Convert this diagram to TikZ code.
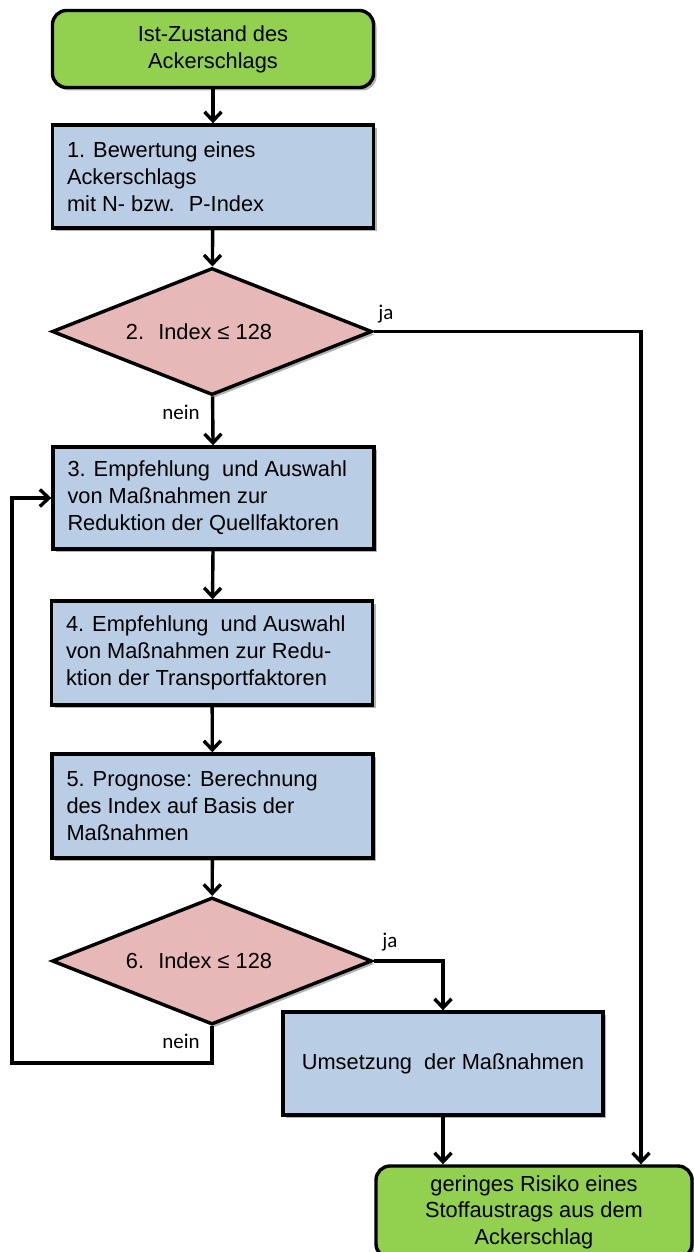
\documentclass[tikz,border=0pt]{standalone}
\usepackage{fontspec}
\setmainfont{Liberation Sans}
\newfontfamily\lblfont{Carlito}
\usetikzlibrary{shapes.geometric,arrows.meta,shadows}
\definecolor{boxgreen}{HTML}{92D050}
\definecolor{boxblue}{HTML}{B9CDE5}
\definecolor{boxpink}{HTML}{E6B9B8}
\tikzset{
  base/.style={draw=black, line width=3.4pt, font=\fontsize{21.8}{27}\selectfont,
    drop shadow={shadow xshift=3pt, shadow yshift=-3pt, opacity=0.3, fill=black}},
  termbox/.style={base, fill=boxgreen, rounded corners=14pt, align=center,
    minimum width=321pt, inner sep=0pt},
  stepbox/.style={base, fill=boxblue, text width=292pt, align=flush left,
    inner xsep=14.5pt, inner ysep=0pt},
  decbox/.style={base, fill=boxpink, diamond, minimum width=320pt,
    minimum height=127pt, inner sep=0pt, aspect=2.5},
  conn/.style={draw=black, line width=3.4pt, line join=miter,
    -{Straight Barb[length=9pt,width=17pt,line width=3.4pt]}},
  lbl/.style={font=\lblfont\fontsize{21}{24}\selectfont, inner sep=0pt}
}
\begin{document}
\begin{tikzpicture}[x=1pt,y=-1pt]
\useasboundingbox (0,0) rectangle (693,1252);
\node[termbox, minimum height=77pt] (start) at (213,49) {Ist-Zustand des\\Ackerschlags};
\node[stepbox, minimum height=103pt] (b1) at (213,176.5) {1. Bewertung eines\\Ackerschlags\\mit N- bzw.~ P-Index};
\node[decbox] (d2) at (212,331.5) {2.~ Index ≤ 128\hspace*{26pt}};
\node[stepbox, minimum height=102pt] (b3) at (213.5,498) {3. Empfehlung~ und Auswahl\\von Maßnahmen zur\\Reduktion der Quellfaktoren};
\node[stepbox, minimum height=104pt] (b4) at (212,653) {4. Empfehlung~ und Auswahl\\von Maßnahmen zur Redu-\\ktion der Transportfaktoren};
\node[stepbox, minimum height=104pt] (b5) at (212.5,806) {5. Prognose: Berechnung\\des Index auf Basis der\\Maßnahmen};
\node[decbox] (d6) at (212,961) {6.~ Index ≤ 128\hspace*{26pt}};
\node[base, fill=boxblue, minimum width=320pt, minimum height=103pt, inner sep=0pt] (um) at (443,1063.5) {Umsetzung~ der Maßnahmen};
\node[termbox, minimum width=316pt, minimum height=92pt, font=\fontsize{21.8}{26.5}\selectfont] (end) at (534,1212) {geringes Risiko eines\\Stoffaustrags aus dem\\Ackerschlag};
\coordinate (jaX) at (641,0);
\coordinate (loopbot) at (12,1063);
\draw[conn] (start) -- (b1);
\draw[conn] (b1) -- (d2);
\draw[conn] (d2) -- (b3);
\draw[conn] (b3) -- (b4);
\draw[conn] (b4) -- (b5);
\draw[conn] (b5) -- (d6);
\draw[conn] (d2.east) -| (jaX |- end.north);
\draw[conn] (d6.east) -| (um.north);
\draw[conn] (um.south) -- (um.south |- end.north);
\draw[conn] (d6.south) |- (loopbot) |- (b3.west);
\node[lbl] (ja1) at (386,314) {ja};
\node[lbl] (nein1) at (181,412) {nein};
\node[lbl] (ja2) at (390,942) {ja};
\node[lbl] (nein2) at (181,1041) {nein};
\end{tikzpicture}
\end{document}
